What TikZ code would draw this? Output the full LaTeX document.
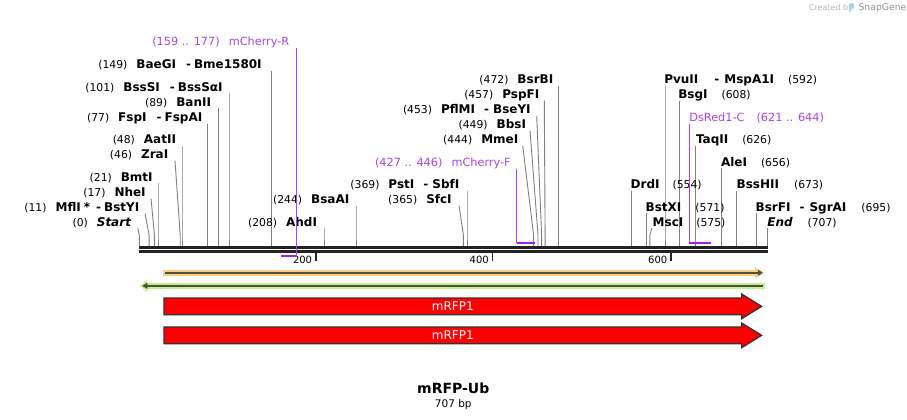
\documentclass[tikz,border=0pt]{standalone}
\usepackage{fontspec}
\setmainfont{DejaVu Sans}
\usetikzlibrary{arrows.meta}
\definecolor{sitegray}{RGB}{128,128,128}
\definecolor{bbcol}{RGB}{34,34,34}
\definecolor{primline}{RGB}{160,32,240}
\definecolor{primtext}{RGB}{170,68,235}
\definecolor{orband}{RGB}{250,206,135}
\definecolor{grband}{RGB}{195,242,140}
\definecolor{featline}{RGB}{80,80,64}
\definecolor{rfp}{RGB}{255,0,0}
\definecolor{rfpedge}{RGB}{50,50,50}
\definecolor{iconblue}{RGB}{170,210,240}
\newcommand\nmf{\fontsize{12}{14}\selectfont\bfseries}
\newcommand\nuf{\fontsize{10.8}{13}\selectfont\mdseries}
\newcommand\prf{\fontsize{11.3}{13}\selectfont\mdseries}
\newcommand\Lsite[6]{%
  \node[lab, anchor=base east] (L#1) at (#4,#3) {#6};
  \coordinate (T#1) at (#5,#3+2.3);
  \coordinate (S#1) at (#2,246);
  \draw[siteline] (T#1) -- (#2,235) -- (S#1);
}
\newcommand\Rsite[6]{%
  \node[lab, anchor=base west] (R#1) at (#4,#3) {#6};
  \coordinate (T#1) at (#5,#3+2.3);
  \coordinate (S#1) at (#2,246);
  \draw[siteline] (T#1) -- (#2,235) -- (S#1);
}
\begin{document}
\begin{tikzpicture}[x=1pt,y=-1pt,
  lab/.style={inner sep=0pt, outer sep=0pt},
  siteline/.style={draw=sitegray, line width=0.9pt},
  primbar/.style={draw=primline, line width=2pt},
  primvert/.style={draw=primline!85!white, line width=1.2pt},
  backbone/.style={draw=bbcol, line width=2.7pt},
  tickmark/.style={draw=bbcol, line width=1.8pt},
  ticklab/.style={inner sep=0pt, anchor=base east, font=\fontsize{10}{12}\selectfont},
  feat/.style={fill=rfp, draw=rfpedge, line width=1.2pt, line join=miter},
  featlab/.style={text=white, font=\fontsize{12}{14}\selectfont, inner sep=0pt}]
\useasboundingbox (0,0) rectangle (907,420);
\fill[white] (0,0) rectangle (907,420);

% watermark
\node[lab, anchor=base west, text=black!28, font=\fontsize{8}{9}\selectfont] (wm1) at (809,10.5) {Created by};
\fill[iconblue, rounded corners=0.8pt] (849,3.5) -- (854,3.5) -- (854,8.5) -- (851.5,8.5) -- (851.5,11.5) -- (849,11.5) -- cycle;
\node[lab, anchor=base west, text=black!42, font=\fontsize{9.3}{10}\selectfont] (wm2) at (858.5,10.8) {SnapGene};

% backbone
\coordinate (bbL1) at (139,247.3);
\coordinate (bbR1) at (767.7,247.3);
\coordinate (bbL2) at (139,251.7);
\coordinate (bbR2) at (767.7,251.7);
\draw[backbone] (bbL1) -- (bbR1);
\draw[backbone] (bbL2) -- (bbR2);

% ticks
\coordinate (t200a) at (315.8,253); \coordinate (t200b) at (315.8,261);
\coordinate (t400a) at (492.5,253); \coordinate (t400b) at (492.5,261);
\coordinate (t600a) at (671,253);   \coordinate (t600b) at (671,261);
\draw[tickmark] (t200a) -- (t200b);
\draw[tickmark] (t400a) -- (t400b);
\draw[tickmark] (t600a) -- (t600b);
\node[ticklab] (n200) at (312.3,263) {200};
\node[ticklab] (n400) at (489,263) {400};
\node[ticklab] (n600) at (667.5,263) {600};

% left-hand sites
\Lsite{baegi}{271.6}{68.3}{261.7}{271.6}{\nuf(149)\hspace{9pt}\nmf BaeGI\hspace{10pt}-\hspace{3pt}Bme1580I}
\Lsite{bsssi}{229.0}{91}{222.7}{229.0}{\nuf(101)\hspace{9pt}\nmf BssSI\hspace{10pt}-\hspace{3pt}BssSαI}
\Lsite{banii}{218.3}{106}{211}{218.3}{\nuf(89)\hspace{9pt}\nmf BanII}
\Lsite{fspi}{207.7}{121.7}{202.3}{207.7}{\nuf(77)\hspace{9pt}\nmf FspI\hspace{10pt}-\hspace{3pt}FspAI}
\Lsite{aatii}{182.0}{143.3}{176}{182.0}{\nuf(48)\hspace{9pt}\nmf AatII}
\Lsite{zrai}{180.2}{158.3}{168.3}{175}{\nuf(46)\hspace{9pt}\nmf ZraI}
\Lsite{bmti}{158.0}{181}{152.7}{158.0}{\nuf(21)\hspace{9pt}\nmf BmtI}
\Lsite{nhei}{154.4}{196}{145.7}{151}{\nuf(17)\hspace{9pt}\nmf NheI}
\Lsite{mfli}{149.1}{211}{139.3}{145}{\nuf(11)\hspace{9pt}\nmf MflI\hspace{3pt}*\hspace{6pt}-\hspace{3pt}BstYI}
\Lsite{start}{139.3}{226}{131}{137.7}{\nuf(0)\hspace{9pt}\nmf\itshape Start}
\Lsite{ahdi}{324.0}{226}{317}{324.0}{\nuf(208)\hspace{9pt}\nmf AhdI}
\Lsite{bsaai}{356.0}{203.3}{349.3}{356.0}{\nuf(244)\hspace{9pt}\nmf BsaAI}
\Lsite{psti}{467.0}{188.3}{459.3}{467.0}{\nuf(369)\hspace{9pt}\nmf PstI\hspace{9pt}-\hspace{4pt}SbfI}
\Lsite{sfci}{463.4}{203.3}{451.7}{459}{\nuf(365)\hspace{9pt}\nmf SfcI}
\Lsite{mmei}{533.6}{143.3}{518.3}{522.7}{\nuf(444)\hspace{9pt}\nmf MmeI}
\Lsite{bbsi}{538.0}{128.3}{526}{530}{\nuf(449)\hspace{9pt}\nmf BbsI}
\Lsite{pflmi}{541.6}{113.3}{530.7}{536.7}{\nuf(453)\hspace{9pt}\nmf PflMI\hspace{9pt}-\hspace{4pt}BseYI}
\Lsite{pspfi}{545.1}{98.3}{539.3}{544.3}{\nuf(457)\hspace{9pt}\nmf PspFI}
\Lsite{bsrbi}{558.4}{83.3}{553.3}{558.4}{\nuf(472)\hspace{9pt}\nmf BsrBI}

% right-hand sites
\Rsite{pvuii}{665.0}{83.3}{664.3}{665.0}{\nmf PvuII\hspace{16pt}-\hspace{5pt}MspA1I\hspace{14pt}\nuf(592)}
\Rsite{bsgi}{679.2}{98.3}{678.3}{679.2}{\nmf BsgI\hspace{14pt}\nuf(608)}
\Rsite{taqii}{695.6}{143.3}{696}{695.6}{\nmf TaqII\hspace{14pt}\nuf(626)}
\Rsite{alei}{721.8}{166}{721}{721.8}{\nmf AleI\hspace{14pt}\nuf(656)}
\Rsite{drdi}{631.3}{188.3}{630.7}{631.3}{\nmf DrdI\hspace{13pt}\nuf(554)}
\Rsite{bsshii}{736.9}{188.3}{736.7}{736.9}{\nmf BssHII\hspace{15pt}\nuf(673)}
\Rsite{bstxi}{646.3}{211}{645.7}{646.3}{\nmf BstXI\hspace{14pt}\nuf(571)}
\Rsite{msci}{649.9}{226}{652.7}{651.7}{\nmf MscI\hspace{13pt}\nuf(575)}
\Rsite{bsrfi}{756.5}{211}{755.7}{756.5}{\nmf BsrFI\hspace{9pt}-\hspace{5pt}SgrAI\hspace{15pt}\nuf(695)}
\Rsite{endp}{767.1}{226}{767.3}{767.1}{\nmf\itshape End\hspace{15pt}\upshape\nuf(707)}

% primers
\node[lab, anchor=base east, text=primtext] (pR) at (289.3,46) {\prf(159 .. 177)\hspace{9pt}mCherry-R};
\coordinate (pRtop) at (296.3,48);
\coordinate (pRend) at (296.3,256);
\coordinate (pRstart) at (280.5,256);
\draw[primvert] (pRtop) -- (pRend);
\draw[primbar] (pRstart) -- (pRend);

\node[lab, anchor=base east, text=primtext] (pF) at (510.7,166.7) {\prf(427 .. 446)\hspace{9pt}mCherry-F};
\coordinate (pFtop) at (516.5,168.5);
\coordinate (pFstart) at (516.5,242.5);
\coordinate (pFend) at (534.5,242.5);
\draw[primvert] (pFtop) -- (pFstart);
\draw[primbar] (pFstart) -- (pFend);

\node[lab, anchor=base west, text=primtext] (pD) at (689.3,121.7) {\prf DsRed1-C\hspace{12pt}(621 .. 644)};
\coordinate (pDtop) at (689.3,123.5);
\coordinate (pDstart) at (689.3,242.5);
\coordinate (pDend) at (710.5,242.5);
\draw[primvert] (pDtop) -- (pDstart);
\draw[primbar] (pDstart) -- (pDend);

% orange strand band (forward)
\coordinate (oL) at (163,272.8);
\coordinate (oR) at (755.5,272.8);
\draw[orband, line width=5.7pt] (oL) -- (oR);
\fill[orband] (755,267.3) -- (764.2,272.8) -- (755,278.3) -- cycle;
\coordinate (oiL) at (165.3,272.8);
\coordinate (oiR) at (762.8,272.8);
\draw[featline, line width=2pt, -{Triangle[length=5pt,width=6pt]}] (oiL) -- (oiR);

% green strand band (reverse)
\coordinate (gR) at (765,285.8);
\coordinate (gL) at (146.5,285.8);
\draw[grband, line width=5.7pt] (gR) -- (gL);
\fill[grband] (147,279.7) -- (140,285.8) -- (147,292) -- cycle;
\coordinate (giR) at (763,285.8);
\coordinate (giL) at (142.3,285.8);
\draw[featline, line width=2pt, -{Triangle[length=5pt,width=6pt]}] (giR) -- (giL);

% mRFP1 features
\draw[feat] (164,298) -- (741.7,298) -- (741.7,294) -- (761.7,306.35) -- (741.7,318.7) -- (741.7,314.7) -- (164,314.7) -- cycle;
\node[featlab] (f1) at (452.8,306.3) {mRFP1};
\draw[feat] (164,327) -- (741.7,327) -- (741.7,323) -- (761.7,335.35) -- (741.7,347.7) -- (741.7,343.7) -- (164,343.7) -- cycle;
\node[featlab] (f2) at (452.8,335.3) {mRFP1};

% title
\node[lab, anchor=base, font=\fontsize{14}{16}\selectfont\bfseries] (title) at (453.3,393.3) {mRFP-Ub};
\node[lab, anchor=base, font=\fontsize{10.5}{12}\selectfont] (len) at (453.3,407.3) {707 bp};
\end{tikzpicture}
\end{document}
